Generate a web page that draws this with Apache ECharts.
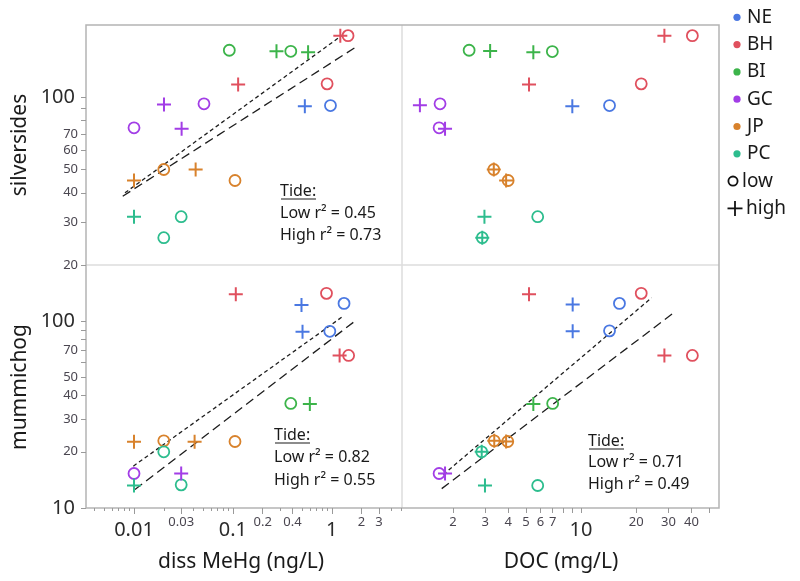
<!DOCTYPE html>
<html><head><meta charset="utf-8">
<script src="https://cdn.jsdelivr.net/npm/echarts@6/dist/echarts.min.js"></script>
<style>html,body{margin:0;padding:0;background:#fff}#c{width:800px;height:581px}</style>
</head><body><div id="c"></div>
<script>
const FONT = '"Noto Sans", "Open Sans", sans-serif';
const sites = ['NE', 'BH', 'BI', 'GC', 'JP', 'PC'];
const siteColors = ['#4a78e2', '#e0505e', '#3cb44a', '#a23de6', '#d8822c', '#2dbd8e'];

// [x, y, siteIndex]   silversides vs diss MeHg
const silvMeHgLow = [[0.97,92.3,0],[1.46,180.6,1],[0.897,113.7,1],[0.092,157,2],[0.385,155.4,2],
  [0.051,93.9,3],[0.01,74.6,3],[0.02,50,4],[0.105,45,4],[0.03,31.8,5],[0.02,26,5]];
const silvMeHgHigh = [[0.534,91.7,0],[1.22,180.6,1],[0.113,112.9,1],[0.276,155.4,2],[0.576,154,2],
  [0.0201,93.2,3],[0.0303,73.9,3],[0.01,45,4],[0.042,50,4],[0.01,31.8,5]];
// silversides vs DOC
const silvDocLow = [[14.3,92.3,0],[40.5,180.6,1],[21.3,113.7,1],[2.45,157,2],[6.97,155,2],
  [1.70,93.9,3],[1.68,74.6,3],[3.34,50,4],[4.0,45,4],[5.8,31.8,5],[2.89,26,5]];
const silvDocHigh = [[8.96,91.7,0],[28.5,180.6,1],[5.2,112.9,1],[3.19,156,2],[5.49,154,2],
  [1.32,92.6,3],[1.81,73.9,3],[3.34,50,4],[3.9,45,4],[2.97,31.8,5],[2.89,26,5]];
// mummichog vs diss MeHg
const mummMeHgLow = [[1.33,124.6,0],[0.955,88.3,0],[0.884,141,1],[1.48,65.6,1],[0.385,36.3,2],
  [0.01,15.3,3],[0.02,22.9,4],[0.105,22.7,4],[0.02,20,5],[0.03,13.3,5]];
const mummMeHgHigh = [[0.494,122,0],[0.506,87.7,0],[0.107,139.3,1],[1.20,65.6,1],[0.6,36,2],
  [0.03,15.3,3],[0.01,22.6,4],[0.041,22.6,4],[0.01,13.2,5]];
// mummichog vs DOC
const mummDocLow = [[16.2,124.6,0],[14.3,88.8,0],[21.3,141,1],[40.5,65.6,1],[7.0,36.3,2],
  [1.68,15.3,3],[3.36,22.9,4],[3.98,22.7,4],[2.87,20,5],[5.8,13.2,5]];
const mummDocHigh = [[9.0,123,0],[9.0,88.3,0],[5.2,139.3,1],[28.5,65.6,1],[5.49,36,2],
  [1.81,15.3,3],[3.36,22.9,4],[3.9,22.7,4],[2.87,20,5],[2.99,13.2,5]];

// regression lines (two per panel: short-dash and long-dash)
const regSilvMeHgShort = [[0.00811,40.0],[1.30,182.4]];
const regSilvMeHgLong  = [[0.00769,38.7],[1.80,163.0]];
const regMummMeHgShort = [[0.00984,16.75],[1.32,106.9]];
const regMummMeHgLong  = [[0.01023,12.55],[1.80,102.1]];
const regMummDocShort  = [[1.772,15.11],[24.3,133.7]];
const regMummDocLong   = [[1.736,12.7],[32.9,113.2]];

const annSilvMeHg = ['Tide:', 'Low r\u00B2 = 0.45', 'High r\u00B2 = 0.73'];
const annMummMeHg = ['Tide:', 'Low r\u00B2 = 0.82', 'High r\u00B2 = 0.55'];
const annMummDoc  = ['Tide:', 'Low r\u00B2 = 0.71', 'High r\u00B2 = 0.49'];

// axis ticks / labels
const mehgRange = [0.00327, 5.13];
const docRange = [1.054, 56.6];
const silvRange = [20, 200];
const mummRange = [10, 200];
const mehgTicks = [0.004,0.005,0.006,0.007,0.008,0.009,0.02,0.04,0.05,0.06,0.07,0.08,0.09,
  0.3,0.5,0.6,0.7,0.8,0.9,4,5];
const mehgMajorTicks = [0.01,0.03,0.1,0.2,0.4,1,2,3];
const mehgLabels = ['0.01','0.03','0.1','0.2','0.4','1','2','3'];
const docTicks = [2,3,4,5,6,7,8,9,10,20,30,40,50];
const docLabels = ['2','3','4','5','6','7','10','20','30','40'];
const silvTicks = [20,30,40,50,60,70,80,90,100];
const silvLabels = ['20','30','40','50','60','70','100'];
const mummTicks = [10,20,30,40,50,60,70,80,90,100];
const mummLabels = ['10','20','30','40','50','70','100'];
const bigLabels = ['0.01','0.1','1','10','100'];

const xTitles = ['diss MeHg (ng/L)', 'DOC (mg/L)'];
const yTitles = ['silversides', 'mummichog'];

// ---------- layout ----------
const L = 86, T = 25, MX = 402, MY = 265, R = 719, B = 508;

function labelFmt(list) {
  return function (v) {
    let best = list[0], bd = Infinity;
    list.forEach(s => { const d = Math.abs(Math.log(Number(s) / v)); if (d < bd) { bd = d; best = s; } });
    return bigLabels.indexOf(best) >= 0 ? '{b|' + best + '}' : '{s|' + best + '}';
  };
}
function tickStyle(len) { return { show: true, inside: false, length: len, lineStyle: { color: '#9a9a9a', width: 1 } }; }

function xAxisVis(grid, range, ticks, labels, len) {
  return {
    gridIndex: grid, type: 'log', logBase: 10, min: range[0], max: range[1], position: 'bottom',
    axisLine: { show: false }, splitLine: { show: false }, minorTick: { show: false },
    axisTick: Object.assign({ customValues: ticks }, tickStyle(len)),
    axisLabel: {
      show: true, customValues: labels.map(Number), margin: 7, formatter: labelFmt(labels),
      rich: {
        s: { fontSize: 13, lineHeight: 15, color: '#4a4650', fontFamily: FONT },
        b: { fontSize: 20, lineHeight: 22, padding: [9, 0, 0, 0], color: '#2b2b2b', fontFamily: FONT }
      }
    }
  };
}
function xAxisTicksOnly(grid, range, ticks, len) {
  return {
    gridIndex: grid, type: 'log', logBase: 10, min: range[0], max: range[1], position: 'bottom', offset: 0,
    axisLine: { show: false }, splitLine: { show: false }, minorTick: { show: false },
    axisTick: Object.assign({ customValues: ticks }, tickStyle(len)),
    axisLabel: { show: false }
  };
}
function yAxisVis(grid, range, ticks, labels) {
  return {
    gridIndex: grid, type: 'log', logBase: 10, min: range[0], max: range[1],
    axisLine: { show: false }, splitLine: { show: false }, minorTick: { show: false },
    axisTick: Object.assign({ customValues: ticks }, tickStyle(5)),
    axisLabel: {
      show: true, customValues: labels.map(Number), margin: 8, formatter: labelFmt(labels),
      rich: {
        s: { fontSize: 13, lineHeight: 15, color: '#4a4650', fontFamily: FONT },
        b: { fontSize: 20, lineHeight: 22, padding: [0, 3, 0, 0], color: '#2b2b2b', fontFamily: FONT }
      }
    }
  };
}
function hiddenAxis(grid, range) {
  return {
    gridIndex: grid, type: 'log', logBase: 10, min: range[0], max: range[1],
    axisLine: { show: false }, axisTick: { show: false }, axisLabel: { show: false },
    splitLine: { show: false }, minorTick: { show: false }
  };
}

const series = [];
function addScatter(data, tide, ax) {
  sites.forEach((s, si) => {
    const pts = data.filter(d => d[2] === si).map(d => [d[0], d[1]]);
    if (!pts.length) return;
    series.push({
      type: 'scatter', name: s, xAxisIndex: ax, yAxisIndex: ax, data: pts, silent: true,
      symbol: tide === 'low' ? 'circle' : 'path://M0 -1 L0 1 M-1 0 L1 0',
      symbolSize: tide === 'low' ? 11 : 14,
      itemStyle: { color: 'rgba(0,0,0,0)', borderColor: siteColors[si], borderWidth: tide === 'low' ? 1.8 : 2, opacity: 1 },
      emphasis: { disabled: true }, z: 3
    });
  });
}
function addReg(data, ax, dash) {
  series.push({
    type: 'line', xAxisIndex: ax, yAxisIndex: ax, data: data, symbol: 'none', silent: true,
    lineStyle: { color: '#1e1e1e', width: 1.3, type: dash }, z: 2
  });
}
addScatter(silvMeHgLow, 'low', 0); addScatter(silvMeHgHigh, 'high', 0);
addScatter(silvDocLow, 'low', 1);  addScatter(silvDocHigh, 'high', 1);
addScatter(mummMeHgLow, 'low', 2); addScatter(mummMeHgHigh, 'high', 2);
addScatter(mummDocLow, 'low', 3);  addScatter(mummDocHigh, 'high', 3);
addReg(regSilvMeHgShort, 0, [4, 3]); addReg(regSilvMeHgLong, 0, [9, 5]);
addReg(regMummMeHgShort, 2, [4, 3]); addReg(regMummMeHgLong, 2, [9, 5]);
addReg(regMummDocShort, 3, [4, 3]);  addReg(regMummDocLong, 3, [9, 5]);

// ---------- graphics (frame, titles, annotations, legend) ----------
const graphic = [];
graphic.push({ type: 'line', shape: { x1: MX, y1: T, x2: MX, y2: B }, style: { stroke: '#dcdcdc', lineWidth: 1.5 }, z: 0 });
graphic.push({ type: 'line', shape: { x1: L, y1: MY, x2: R, y2: MY }, style: { stroke: '#dcdcdc', lineWidth: 1.5 }, z: 0 });
graphic.push({ type: 'rect', shape: { x: L, y: T, width: R - L, height: B - T }, style: { fill: 'none', stroke: '#b4b4b4', lineWidth: 1.5 }, z: 0 });

function txt(text, x, y, size, opts) {
  return Object.assign({ type: 'text', x: x, y: y, style: Object.assign({ text: text, font: size + 'px ' + FONT, fill: '#1a1a1a', align: 'left', verticalAlign: 'middle' }, (opts && opts.style) || {}) }, (opts && opts.el) || {});
}
graphic.push(txt(yTitles[0], 20, 145, 21, { style: { align: 'center' }, el: { rotation: Math.PI / 2 } }));
graphic.push(txt(yTitles[1], 20, 387, 21, { style: { align: 'center' }, el: { rotation: Math.PI / 2 } }));
graphic.push(txt(xTitles[0], 241, 562, 21, { style: { align: 'center' } }));
graphic.push(txt(xTitles[1], 561, 562, 21, { style: { align: 'center' } }));

function ann(lines, x, y0, dy) {
  lines.forEach((t, i) => graphic.push(txt(t, x, y0 + i * dy, 16)));
  graphic.push({ type: 'line', shape: { x1: x + 1, y1: y0 + 8, x2: x + 36, y2: y0 + 8 }, style: { stroke: '#1a1a1a', lineWidth: 1.2 } });
}
ann(annSilvMeHg, 280, 191, 22);
ann(annMummMeHg, 274, 435, 22.5);
ann(annMummDoc, 588, 441, 21.7);

const LEG_Y0 = 17.3, LEG_DY = 27.3;
sites.forEach((s, i) => {
  graphic.push({ type: 'circle', shape: { cx: 737, cy: LEG_Y0 + i * LEG_DY, r: 3.6 }, style: { fill: siteColors[i] } });
  graphic.push(txt(s, 747, LEG_Y0 + i * LEG_DY, 19));
});
const yLow = LEG_Y0 + 6 * LEG_DY, yHigh = LEG_Y0 + 7 * LEG_DY;
graphic.push({ type: 'circle', shape: { cx: 733, cy: yLow, r: 4.6 }, style: { fill: 'none', stroke: '#111', lineWidth: 1.8 } });
graphic.push(txt('low', 742, yLow, 19));
graphic.push({ type: 'line', shape: { x1: 727.5, y1: yHigh, x2: 742.5, y2: yHigh }, style: { stroke: '#111', lineWidth: 1.8 } });
graphic.push({ type: 'line', shape: { x1: 735, y1: yHigh - 7.5, x2: 735, y2: yHigh + 7.5 }, style: { stroke: '#111', lineWidth: 1.8 } });
graphic.push(txt('high', 746, yHigh, 19));

const chart = echarts.init(document.getElementById('c'), null, { renderer: 'canvas' });
chart.setOption({
  animation: false,
  backgroundColor: '#fff',
  textStyle: { fontFamily: FONT },
  grid: [
    { left: L, top: T, width: MX - L, height: MY - T, outerBoundsMode: 'none', containLabel: false },
    { left: MX, top: T, width: R - MX, height: MY - T, outerBoundsMode: 'none', containLabel: false },
    { left: L, top: MY, width: MX - L, height: B - MY, outerBoundsMode: 'none', containLabel: false },
    { left: MX, top: MY, width: R - MX, height: B - MY, outerBoundsMode: 'none', containLabel: false }
  ],
  xAxis: [
    hiddenAxis(0, mehgRange),
    hiddenAxis(1, docRange),
    xAxisVis(2, mehgRange, mehgTicks, mehgLabels, 3),
    xAxisVis(3, docRange, docTicks, docLabels, 5),
    xAxisTicksOnly(2, mehgRange, mehgMajorTicks, 6)
  ],
  yAxis: [
    yAxisVis(0, silvRange, silvTicks, silvLabels),
    hiddenAxis(1, silvRange),
    yAxisVis(2, mummRange, mummTicks, mummLabels),
    hiddenAxis(3, mummRange)
  ],
  series: series,
  graphic: graphic
});
</script></body></html>
